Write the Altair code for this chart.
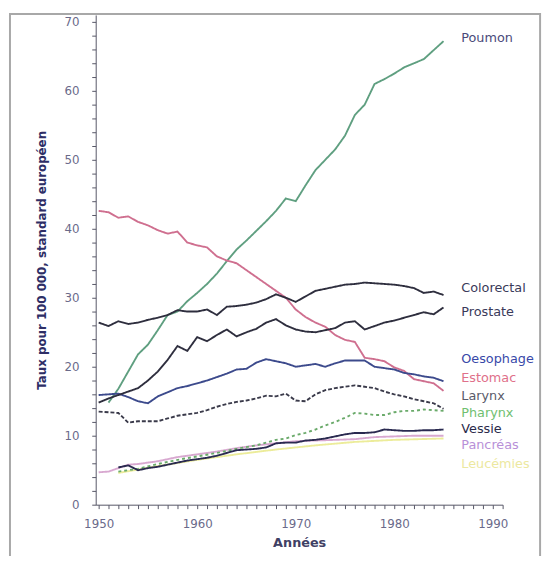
import altair as alt
import pandas as pd

# ---------------- data ----------------
YEARS_FULL = list(range(1950, 1986))

ESTOMAC = [42.6, 42.4, 41.6, 41.8, 41.0, 40.5, 39.8, 39.3, 39.6, 38.0,
           37.6, 37.3, 36.0, 35.4, 35.0, 34.0, 33.0, 32.0, 31.0, 30.0,
           28.3, 27.2, 26.4, 25.8, 24.6, 23.9, 23.6, 21.3, 21.1, 20.8,
           19.9, 19.4, 18.2, 17.9, 17.6, 16.5]
COLORECTAL = [26.4, 25.9, 26.6, 26.2, 26.4, 26.8, 27.1, 27.5, 28.2, 28.0,
              28.0, 28.3, 27.5, 28.7, 28.8, 29.0, 29.3, 29.8, 30.5, 30.0,
              29.4, 30.2, 31.0, 31.3, 31.6, 31.9, 32.0, 32.2, 32.1, 32.0,
              31.9, 31.7, 31.4, 30.7, 30.9, 30.4]
PROSTATE = [14.8, 15.4, 15.9, 16.4, 16.9, 18.0, 19.3, 21.0, 23.0, 22.3,
            24.3, 23.7, 24.6, 25.4, 24.4, 25.0, 25.5, 26.4, 26.9, 26.0,
            25.4, 25.1, 25.0, 25.3, 25.6, 26.4, 26.6, 25.4, 25.9, 26.4,
            26.7, 27.1, 27.5, 27.9, 27.6, 28.6]
OESOPHAGE = [15.9, 16.0, 16.1, 15.6, 15.0, 14.7, 15.7, 16.3, 16.9, 17.2,
             17.6, 18.0, 18.5, 19.0, 19.6, 19.7, 20.6, 21.1, 20.8, 20.5,
             20.0, 20.2, 20.4, 20.0, 20.5, 20.9, 20.9, 20.9, 20.0, 19.8,
             19.6, 19.1, 18.9, 18.6, 18.4, 17.9]
LARYNX = [13.5, 13.4, 13.3, 11.9, 12.1, 12.1, 12.1, 12.5, 12.9, 13.1,
          13.3, 13.7, 14.2, 14.6, 14.9, 15.1, 15.4, 15.8, 15.7, 16.1,
          15.1, 15.0, 16.0, 16.6, 16.9, 17.1, 17.3, 17.1, 16.9, 16.4,
          16.0, 15.7, 15.3, 15.0, 14.7, 13.9]

POUMON_YEARS = list(range(1951, 1986))
POUMON = [14.8, 16.8, 19.3, 21.8, 23.2, 25.3, 27.5, 28.0, 29.5,
          30.7, 32.0, 33.5, 35.3, 37.0, 38.3, 39.7, 41.1, 42.6, 44.4,
          44.0, 46.3, 48.5, 50.0, 51.5, 53.5, 56.5, 58.0, 61.0, 61.7,
          62.5, 63.4, 64.0, 64.6, 65.9, 67.2]

VESSIE_YEARS = list(range(1952, 1986))
VESSIE = [5.4, 5.7, 5.0, 5.3, 5.5, 5.8, 6.1, 6.4,
          6.6, 6.8, 7.1, 7.5, 7.9, 8.0, 8.1, 8.3, 8.9, 9.0,
          9.0, 9.3, 9.4, 9.6, 9.9, 10.2, 10.4, 10.4, 10.5, 10.9,
          10.8, 10.7, 10.7, 10.8, 10.8, 10.9]

PHARYNX_YEARS = [1952, 1954, 1956, 1958, 1960, 1962, 1964, 1966, 1968, 1969,
                 1970, 1971, 1972, 1973, 1974, 1975, 1976, 1977, 1978, 1979,
                 1980, 1981, 1982, 1983, 1984, 1985]
PHARYNX = [4.8, 5.2, 5.9, 6.5, 7.0, 7.5, 8.1, 8.6, 9.4, 9.6,
           10.1, 10.4, 10.9, 11.5, 12.0, 12.6, 13.3, 13.2, 13.0, 13.0,
           13.4, 13.6, 13.6, 13.8, 13.7, 13.6]

PANCREAS_YEARS = [1950, 1951, 1952, 1953, 1954, 1956, 1958, 1960, 1962, 1964,
                  1966, 1968, 1970, 1972, 1974, 1976, 1978, 1980, 1982, 1985]
PANCREAS = [4.7, 4.8, 5.3, 5.8, 5.9, 6.3, 6.9, 7.3, 7.7, 8.2,
            8.6, 8.9, 9.2, 9.3, 9.4, 9.5, 9.8, 9.9, 10.0, 10.0]

LEUCEMIES_YEARS = [1952, 1956, 1960, 1964, 1968, 1972, 1976, 1980, 1985]
LEUCEMIES = [4.6, 5.6, 6.5, 7.3, 8.0, 8.6, 9.1, 9.4, 9.6]

SERIES = ["Leucémies", "Pancréas", "Pharynx", "Poumon", "Estomac", "Oesophage",
          "Larynx", "Vessie", "Prostate", "Colorectal"]
LINE_COLORS = ["#ecec9a", "#d8a8d0", "#6aaa6a", "#5f9f80", "#cf6f8f", "#3c4a8c",
               "#3a3a4a", "#2a2a50", "#2e2e3e", "#2e2e3e"]
DASHES = [[1, 0], [1, 0], [3, 3], [1, 0], [1, 0], [1, 0],
          [4, 2], [1, 0], [1, 0], [1, 0]]

LABELS = ["Poumon", "Colorectal", "Prostate", "Oesophage", "Estomac", "Larynx",
          "Pharynx", "Vessie", "Pancréas", "Leucémies"]
LABEL_COLORS = ["#4a4a7a", "#3a3a5a", "#3a3a5a", "#3848a8", "#e0708a", "#5a5a6a",
                "#70c070", "#2a2a4a", "#b890d8", "#ece8a0"]
LABEL_Y = [67.6, 31.4, 28.0, 21.1, 18.3, 15.7, 13.3, 10.9, 8.6, 5.9]
LABEL_X = 1986.8

X_TICKS = list(range(1950, 1992))
Y_TICKS = list(range(0, 72, 2))

# ---------------- tables ----------------
rows = []
def add(name, years, vals):
    for yr, v in zip(years, vals):
        rows.append({"serie": name, "annee": yr, "taux": v})

add("Leucémies", LEUCEMIES_YEARS, LEUCEMIES)
add("Pancréas", PANCREAS_YEARS, PANCREAS)
add("Pharynx", PHARYNX_YEARS, PHARYNX)
add("Poumon", POUMON_YEARS, POUMON)
add("Estomac", YEARS_FULL, ESTOMAC)
add("Oesophage", YEARS_FULL, OESOPHAGE)
add("Larynx", YEARS_FULL, LARYNX)
add("Vessie", VESSIE_YEARS, VESSIE)
add("Prostate", YEARS_FULL, PROSTATE)
add("Colorectal", YEARS_FULL, COLORECTAL)
df = pd.DataFrame(rows)

lab = pd.DataFrame({"nom": LABELS, "couleur": LABEL_COLORS, "taux": LABEL_Y,
                    "annee": [LABEL_X] * len(LABELS)})

AXIS_LABEL = "#6a6a8a"
FONT = "DejaVu Sans"

xscale = alt.Scale(domain=[1949.7, 1991], nice=False, zero=False)
yscale = alt.Scale(domain=[0, 71], nice=False)

x_axis = alt.Axis(
    title="Années", values=X_TICKS, format="d",
    labelExpr="(round(datum.value) % 10 == 0) ? datum.label : ''",
    labelOverlap=False, labelFlush=False, labelBound=False, grid=False,
    tickSize=4, labelPadding=10, titlePadding=7,
    labelFont=FONT, labelFontSize=12, labelColor=AXIS_LABEL,
    titleFont=FONT, titleFontSize=13, titleFontWeight="bold",
    titleColor="#404064", domainColor="#555566", tickColor="#555566",
)
y_axis = alt.Axis(
    title="Taux pour 100 000, standard européen", values=Y_TICKS,
    labelExpr="(round(datum.value) % 10 == 0) ? datum.label : ''",
    labelOverlap=False, labelFlush=False, labelBound=False, grid=False,
    tickSize=4, labelPadding=13, titlePadding=16,
    labelFont=FONT, labelFontSize=12, labelColor=AXIS_LABEL,
    titleFont=FONT, titleFontSize=12, titleFontWeight="bold",
    titleColor="#2e2e66", domainColor="#555566", tickColor="#555566",
)

X_ENC = alt.X("annee:Q", scale=xscale, axis=x_axis)
Y_ENC = alt.Y("taux:Q", scale=yscale, axis=y_axis)

lines = alt.Chart(df).mark_line(strokeWidth=1.9, interpolate="linear").encode(
    x=X_ENC,
    y=Y_ENC,
    color=alt.Color("serie:N", scale=alt.Scale(domain=SERIES, range=LINE_COLORS), legend=None),
    strokeDash=alt.StrokeDash("serie:N", scale=alt.Scale(domain=SERIES, range=DASHES), legend=None),
    order=alt.Order("annee:Q"),
)

texts = alt.Chart(lab).mark_text(
    align="left", baseline="middle", font=FONT, fontSize=13
).encode(
    x=X_ENC,
    y=Y_ENC,
    text="nom:N",
    color=alt.Color("couleur:N", scale=None),
)

frame = alt.Chart(alt.Data(values=[{}])).mark_rect(
    fillOpacity=0, stroke="#a8a8a8", strokeWidth=2
).encode(
    x=alt.value(-87), x2=alt.value(451), y=alt.value(-1), y2=alt.value(600)
)

chart = alt.layer(lines, texts, frame).properties(
    width=413, height=497,
    padding={"left": 89, "top": 3, "right": 44, "bottom": 48},
    autosize=alt.AutoSizeParams(type="none"),
    background="white",
).configure_view(stroke=None)

chart.save("out.html", embed_options={"renderer": "svg", "actions": False})
